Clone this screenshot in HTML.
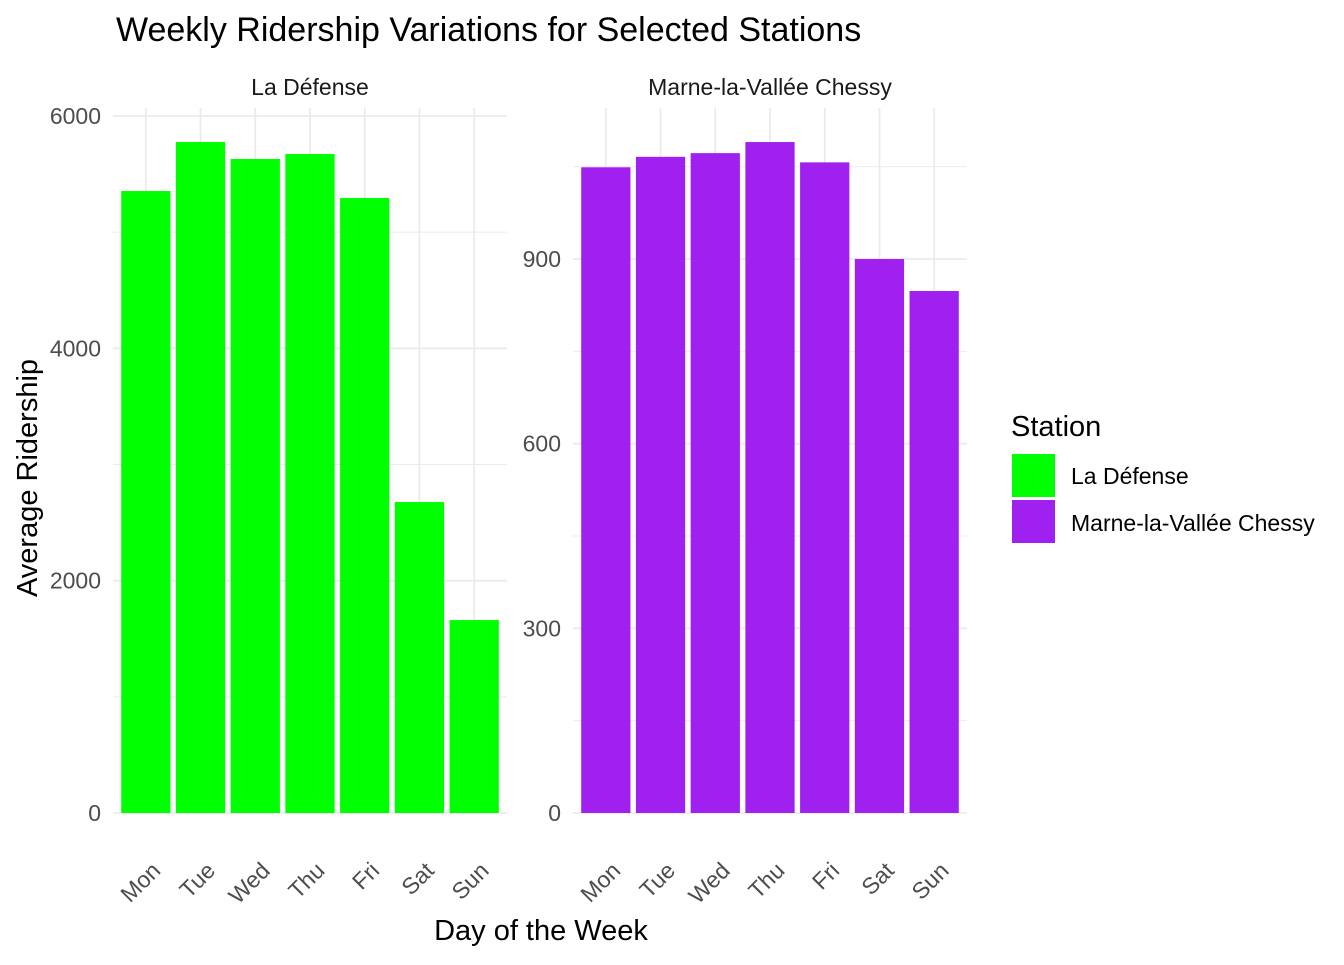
<!DOCTYPE html>
<html><head><meta charset="utf-8"><style>
body{margin:0;background:#fff;font-family:"Liberation Sans",Arial,sans-serif}
svg text{font-family:"Liberation Sans",Arial,sans-serif}
</style></head><body>
<svg id="chart" width="1344" height="960" xmlns="http://www.w3.org/2000/svg">
<text x="116" y="41" font-size="34" fill="#000">Weekly Ridership Variations for Selected Stations</text>
<text x="310" y="95" font-size="23" fill="#1a1a1a" text-anchor="middle">La Défense</text>
<text x="770" y="95" font-size="23" fill="#1a1a1a" text-anchor="middle">Marne-la-Vallée Chessy</text>
<text transform="translate(37,478) rotate(-90)" font-size="29" text-anchor="middle" fill="#000">Average Ridership</text>
<text x="541" y="940" font-size="29" text-anchor="middle" fill="#000">Day of the Week</text>
<g id="p1"></g>
<g id="p2"></g>
<g>
<text x="1011" y="436" font-size="29" fill="#000">Station</text>
<rect x="1012" y="454" width="43" height="43" fill="#00ff00"/>
<text x="1071" y="484" font-size="23" fill="#000">La Défense</text>
<rect x="1012" y="500" width="43" height="43" fill="#a020f0"/>
<text x="1071" y="531" font-size="23" fill="#000">Marne-la-Vallée Chessy</text>
</g>
</svg>
<script>
const days = ["Mon","Tue","Wed","Thu","Fri","Sat","Sun"];
const laDefense = [5354,5776,5630,5673,5294,2677,1661];
const marne = [1049,1066,1072,1090,1057,900,848];
const ticksLeft = [0,2000,4000,6000];
const minorLeft = [1000,3000,5000];
const ticksRight = [0,300,600,900];
const minorRight = [150,450,750,1050];
const NS="http://www.w3.org/2000/svg";
function mk(g,tag,attrs){const e=document.createElementNS(NS,tag);for(const k in attrs)e.setAttribute(k,attrs[k]);g.appendChild(e);return e;}
function panel(gid,x0,x1,vals,maxV,yMaxPx,ticks,minor,color,key){
  const g=document.getElementById(gid);
  const yTop=108,y0=813;
  const y=v=>y0-(v/maxV)*(y0-yMaxPx);
  const step=(x1-x0)/7.2;
  const x=i=>x0+step*(0.6+i);
  minor.forEach(t=>{const l=mk(g,"line",{x1:x0,x2:x1,y1:y(t),y2:y(t),stroke:"#ebebeb","stroke-width":1});
    
    });
  ticks.forEach(t=>{const l=mk(g,"line",{x1:x0,x2:x1,y1:y(t),y2:y(t),stroke:"#ebebeb","stroke-width":1.8});
    
    
    const tx=mk(g,"text",{x:x0-12,y:y(t)+8,"font-size":23,fill:"#4d4d4d","text-anchor":"end"});tx.textContent=t;
    
    });
  days.forEach((d,i)=>{const l=mk(g,"line",{x1:x(i),x2:x(i),y1:yTop,y2:y0,stroke:"#ebebeb","stroke-width":1.8});
    
    });
  vals.forEach((v,i)=>{const w=step*0.9;
    const r=mk(g,"rect",{x:x(i)-w/2,y:y(v),width:w,height:y0-y(v),fill:color});
    
    });
  days.forEach((d,i)=>{const cx=x(i)+16,cy=872;
    const t=mk(g,"text",{x:cx,y:cy,"font-size":23,fill:"#4d4d4d","text-anchor":"end",transform:`rotate(-45 ${cx} ${cy})`});t.textContent=d;
    
    });
}
panel("p1",113,507,laDefense,6000,116,ticksLeft,minorLeft,"#00ff00","la-defense");
panel("p2",573,967,marne,900,259,ticksRight,minorRight,"#a020f0","marne");
</script>
</body></html>
